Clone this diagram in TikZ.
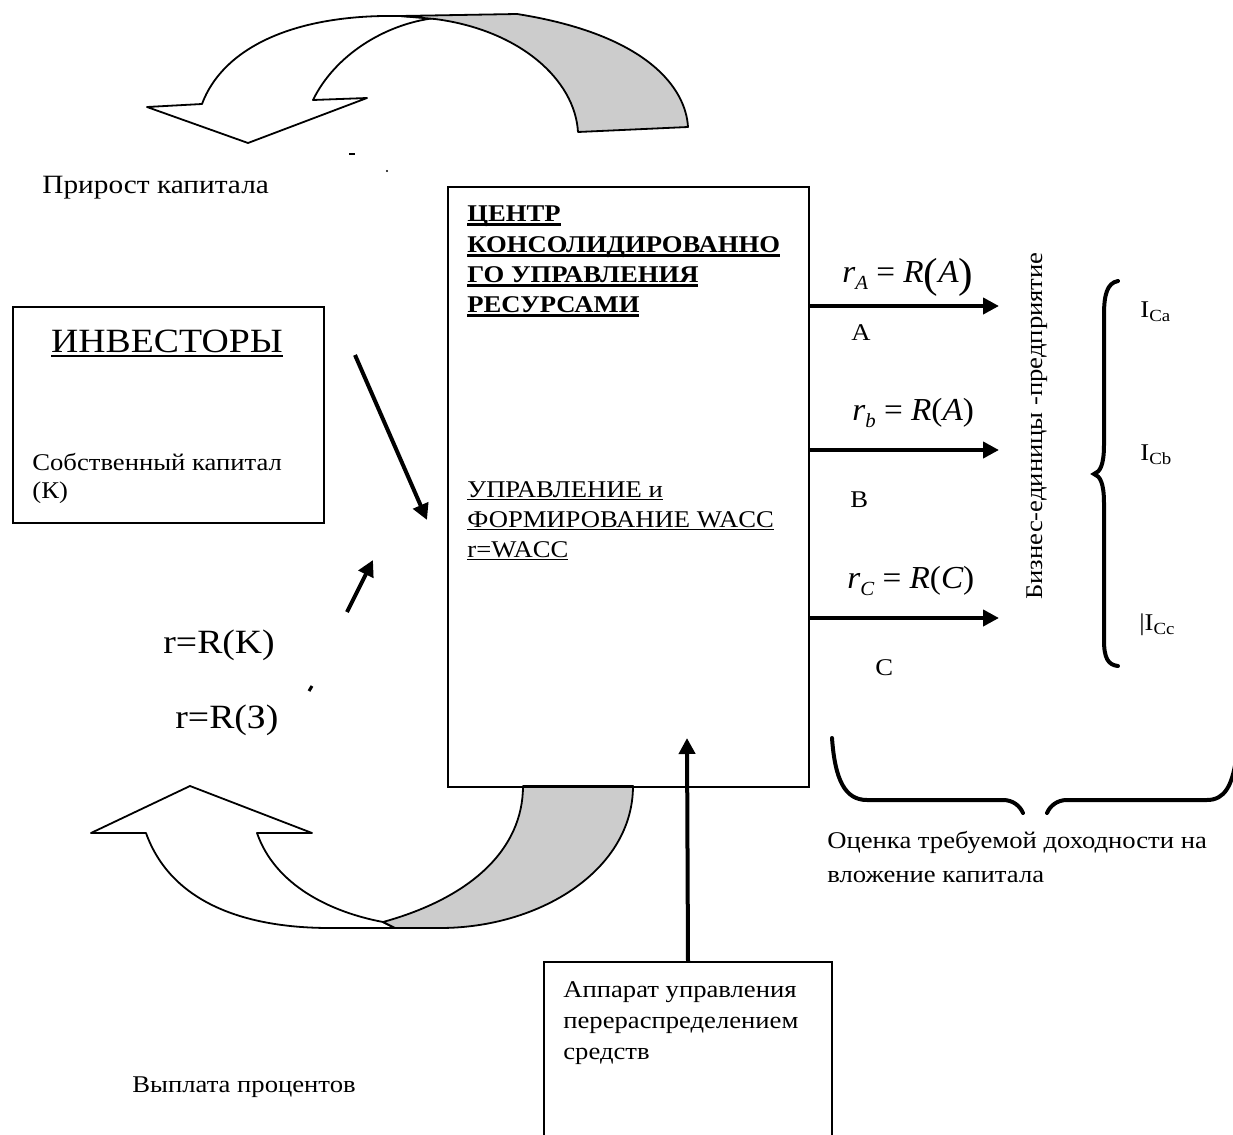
\documentclass[tikz,border=0pt]{standalone}
\usepackage{fontspec}
\setmainfont{Liberation Serif}[FakeStretch=1.11]
\newfontfamily\fmlfont{Liberation Serif}[FakeStretch=1.04]
\usetikzlibrary{arrows.meta}
\newcommand\myul[3]{\setbox0\hbox{#3}\leavevmode\rlap{\raisebox{-#1}{\rule{\wd0}{#2}}}\box0}
\newcommand\thinul[1]{\myul{1.6pt}{0.7pt}{#1}}
\newcommand\bigul[1]{\myul{2.4pt}{0.9pt}{#1}}
\newcommand\thickul[1]{\myul{2.4pt}{1.2pt}{#1}}
\newcommand\fsub[1]{\raisebox{-3.5pt}{\fontsize{10pt}{10pt}\selectfont\itshape #1}}
\newcommand\isub[1]{\raisebox{-2pt}{\fontsize{8.5pt}{8.5pt}\selectfont #1}}
\begin{document}
\begin{tikzpicture}[x=0.5pt,y=-0.5pt,
  txt/.style={font=\fontsize{12pt}{15pt}\selectfont, inner sep=0pt, anchor=base west},
  bigtxt/.style={font=\fontsize{17pt}{20pt}\selectfont, inner sep=0pt},
  formula/.style={font=\fmlfont\fontsize{16pt}{18pt}\selectfont, inner sep=0pt, anchor=base west},
  boxed/.style={draw, line width=1pt, inner sep=0pt, anchor=north west},
  arr/.style={line width=2pt, -{Triangle[length=8pt,width=8pt]}},
  curv/.style={draw=black, line width=0.9pt, line join=round},
  brace/.style={line width=2pt, line cap=round}]
\clip (0,0) rectangle (1233,1135);
\fill[white] (0,0) rectangle (1233,1135);

% top curved arrow
\path[curv, fill=white] (202,104) .. controls (222,50) and (290,14) .. (400,16) -- (435,18)
  .. controls (385,24) and (335,55) .. (313,100) -- (367,98) -- (248,143) -- (147,107) -- cycle;
\path[curv, fill=black!20] (435,19) .. controls (520,30) and (575,80) .. (578,132) -- (688,127)
  .. controls (686,90) and (650,35) .. (517,14) -- (400,16) -- cycle;

% bottom curved arrow
\path[curv, fill=white] (146,833) .. controls (170,900) and (240,928) .. (330,928) -- (395,928) -- (383,922)
  .. controls (330,912) and (275,885) .. (257,833) -- (312,833) -- (190,786) -- (91,833) -- cycle;
\path[curv, fill=black!20] (383,922) .. controls (470,898) and (523,850) .. (523,786) -- (633,786)
  .. controls (633,870) and (540,928) .. (440,928) -- (395,928) -- cycle;

% tiny marks
\draw[line width=0.8pt] (349,154) -- (355,154);
\fill (387,171) circle (0.6pt);
\draw[line width=1.5pt] (309,691) -- (312,686);

% boxes
\node[boxed, minimum width=180.5pt, minimum height=300pt] (center) at (447,186) {};
\node[boxed, minimum width=155.5pt, minimum height=108pt] (inv) at (12,306) {};
\node[boxed, minimum width=144pt, minimum height=120pt] (app) at (543,961) {};

% texts
\node[txt, font=\fontsize{13.2pt}{15pt}\selectfont] (prirost) at (42,193) {Прирост капитала};
\node[bigtxt, anchor=base] (invtitle) at (167,352) {\bigul{ИНВЕСТОРЫ}};
\node[txt] (own1) at (32,470) {Собственный капитал};
\node[txt] (own2) at (32,498) {(К)};

\node[txt, font=\fontsize{12pt}{15pt}\selectfont\bfseries] (c1) at (467,221) {\thickul{ЦЕНТР}};
\node[txt, font=\fontsize{12pt}{15pt}\selectfont\bfseries] (c2) at (467,252) {\thickul{КОНСОЛИДИРОВАННО}};
\node[txt, font=\fontsize{12pt}{15pt}\selectfont\bfseries] (c3) at (467,282) {\thickul{ГО УПРАВЛЕНИЯ}};
\node[txt, font=\fontsize{12pt}{15pt}\selectfont\bfseries] (c4) at (467,312) {\thickul{РЕСУРСАМИ}};
\node[txt] (w1) at (467,497) {\thinul{УПРАВЛЕНИЕ и}};
\node[txt] (w2) at (467,527) {\thinul{ФОРМИРОВАНИЕ WACC}};
\node[txt] (w3) at (467,557) {\thinul{r=WACC}};

\node[bigtxt, anchor=base west] (rk) at (163,653) {r=R(K)};
\node[bigtxt, anchor=base west] (rz) at (175,728) {r=R(З)};

\node[formula] (fa) at (842,282) {\itshape r\fsub{A} \upshape= \itshape R\raisebox{-2.5pt}{\upshape\fontsize{21pt}{21pt}\selectfont (}A\raisebox{-2.5pt}{\upshape\fontsize{21pt}{21pt}\selectfont )}};
\node[formula] (fb) at (852,420) {\itshape r\fsub{b} \upshape= \itshape R\upshape(\itshape A\upshape)};
\node[formula] (fc) at (847,588) {\itshape r\fsub{C} \upshape= \itshape R\upshape(\itshape C\upshape)};

\node[txt] (la) at (851,340) {A};
\node[txt] (lb) at (850,507) {B};
\node[txt] (lc) at (875,675) {C};

\node[txt, anchor=center, rotate=90] (biz) at (1037,426) {Бизнес-единицы -предприятие};

\node[txt] (ica) at (1140,317) {I\isub{Ca}};
\node[txt] (icb) at (1140,460) {I\isub{Cb}};
\node[txt] (icc) at (1139,630) {|I\isub{Cc}};

\node[txt] (ocen1) at (827,848) {Оценка требуемой доходности на};
\node[txt] (ocen2) at (827,882) {вложение капитала};

\node[txt] (ap1) at (563,997) {Аппарат управления};
\node[txt] (ap2) at (563,1028) {перераспределением};
\node[txt] (ap3) at (563,1059) {средств};

\node[txt] (vypl) at (132,1092) {Выплата процентов};

% connectors
\coordinate (ea) at (999,306);
\coordinate (eb) at (999,450);
\coordinate (ec) at (999,618);
\draw[arr] (ea -| center.east) -- (ea);
\draw[arr] (eb -| center.east) -- (eb);
\draw[arr] (ec -| center.east) -- (ec);

\coordinate (appTip) at (687,738);
\draw[arr] (app.north) -- (appTip);

\coordinate (invS) at (355,355);
\coordinate (invT) at (427,520);
\draw[arr] (invS) -- (invT);

\coordinate (rS) at (347,612);
\coordinate (rT) at (373,560);
\draw[arr] (rS) -- (rT);

% braces
\draw[brace] (1118,281) .. controls (1107,283) and (1104,295) .. (1104,315) -- (1104,445)
  .. controls (1104,465) and (1100,472) .. (1094,474) .. controls (1100,476) and (1104,483) .. (1104,503)
  -- (1104,640) .. controls (1104,658) and (1108,665) .. (1118,666);
\draw[brace] (832,738) .. controls (835,780) and (845,800) .. (867,800) -- (1003,800)
  .. controls (1013,800) and (1020,806) .. (1023,813);
\draw[brace] (1047,813) .. controls (1050,806) and (1057,800) .. (1067,800) -- (1207,800)
  .. controls (1225,800) and (1232,785) .. (1236,760);
\end{tikzpicture}
\end{document}
